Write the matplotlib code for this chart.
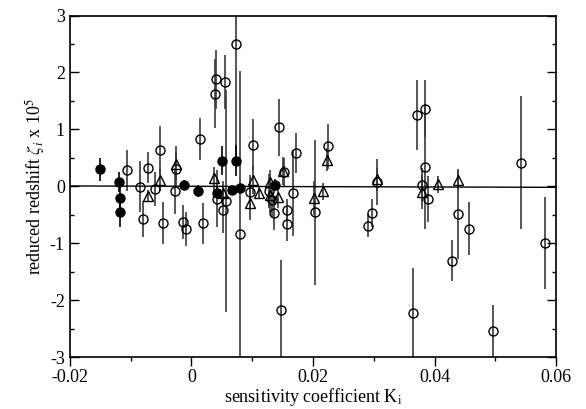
import matplotlib
matplotlib.use("Agg")
import matplotlib.pyplot as plt
from matplotlib.ticker import MultipleLocator

plt.rcParams['font.family'] = ['Liberation Serif', 'DejaVu Serif']
plt.rcParams['mathtext.fontset'] = 'stix'
plt.rcParams['axes.unicode_minus'] = False

# filled circles
fill_x = [-0.0151, -0.0119, -0.0118, -0.0117, -0.0012, 0.0011, 0.0050, 0.0074,
          0.0042, 0.0067, 0.0080, 0.0137]
fill_y = [0.30, 0.08, -0.21, -0.46, 0.03, -0.08, 0.45, 0.45, -0.12, -0.06, -0.035, 0.02]
fill_err = [0.20, 0.18, 0.30, 0.26, 0.08, 0.10, 0.25, 0.27, 0.10, 0.08, 0.08, 0.10]

# open circles
open_x = [-0.0106, -0.0084, -0.0071, -0.0059, -0.0052, -0.0027, -0.0026, 0.0015,
          0.0039, 0.0040, 0.0055, 0.0074, -0.0079, -0.0046, -0.0013, -0.0008,
          0.0019, 0.0043, 0.0052, 0.0057, 0.0080, 0.0097, 0.0128, 0.0136,
          0.0147, 0.0157, 0.0157, 0.0168, 0.0203, 0.0101, 0.0144, 0.0172,
          0.0225, 0.0152, 0.0305, 0.0297, 0.0290, 0.0371, 0.0384, 0.0385,
          0.0379, 0.0389, 0.0438, 0.0457, 0.0429, 0.0364, 0.0496, 0.0581,
          0.0542, 0.0133]
open_y = [0.28, -0.01, 0.33, -0.05, 0.64, -0.08, 0.30, 0.83,
          1.63, 1.88, 1.83, 2.50, -0.57, -0.65, -0.62, -0.75,
          -0.65, -0.22, -0.42, -0.25, -0.84, -0.105, -0.08, -0.47,
          -2.17, -0.42, -0.66, -0.12, -0.46, 0.73, 1.04, 0.585,
          0.70, 0.25, 0.08, -0.47, -0.69, 1.25, 1.36, 0.345,
          0.02, -0.22, -0.49, -0.745, -1.31, -2.23, -2.54, -1.00,
          0.415, -0.24]
open_err = [0.36, 0.45, 0.27, 0.30, 0.42, 0.40, 0.30, 0.37,
            0.60, 0.52, 0.48, 2.10, 0.32, 0.37, 0.30, 0.30,
            0.36, 0.50, 0.40, 1.95, 2.87, 0.30, 0.30, 0.30,
            0.87, 0.20, 0.30, 0.75, 1.27, 0.45, 0.50, 0.35,
            0.40, 0.25, 0.40, 0.25, 0.20, 0.62, 0.50, 1.10,
            0.30, 0.40, 0.79, 0.47, 0.36, 0.80, 0.46, 0.81,
            1.17, 0.30]

# open triangles
tri_x = [-0.0071, -0.0052, -0.0026, 0.0038, 0.0052, 0.0101, 0.0096, 0.0111,
         0.0129, 0.0129, 0.0142, 0.0151, 0.0223, 0.0202, 0.0216, 0.0305,
         0.0379, 0.0405, 0.0438]
tri_y = [-0.17, 0.11, 0.40, 0.14, -0.11, 0.11, -0.29, -0.12,
         0.08, -0.15, -0.19, 0.27, 0.47, -0.21, -0.09, 0.12,
         -0.095, 0.035, 0.11]
tri_err = [0.10, 0.20, 0.30, 0.20, 0.20, 0.25, 0.30, 0.10,
           0.20, 0.30, 0.20, 0.25, 0.20, 0.30, 0.15, 0.20,
           0.30, 0.15, 0.18]

# linear fit
fit_k = [-0.02, 0.06]
fit_intercept = 0.0
fit_slope = -0.3

fig = plt.figure(figsize=(5.86, 4.09), dpi=100)
ax = fig.add_axes([0.119, 0.127, 0.830, 0.835])

bar_col = '#3a3a3a'
ax.errorbar(open_x, open_y, yerr=open_err, fmt='o', ms=6.5, mfc='none', mec='k',
            mew=1.0, ecolor=bar_col, elinewidth=1.2, capsize=0)
ax.errorbar(tri_x, tri_y, yerr=tri_err, fmt='^', ms=7, mfc='none', mec='k',
            mew=1.0, ecolor=bar_col, elinewidth=1.2, capsize=0)
ax.errorbar(fill_x, fill_y, yerr=fill_err, fmt='o', ms=6.5, mfc='k', mec='k',
            ecolor='k', elinewidth=1.2, capsize=0)

ax.plot(fit_k, [fit_intercept + fit_slope * k for k in fit_k], color='k', lw=1.0)

ax.set_xlim(-0.02, 0.06)
ax.set_ylim(-3, 3)
ax.xaxis.set_minor_locator(MultipleLocator(0.01))
ax.yaxis.set_major_locator(MultipleLocator(1))
ax.yaxis.set_minor_locator(MultipleLocator(0.5))
ax.set_xticks([-0.02, 0, 0.02, 0.04, 0.06])
ax.set_xticklabels(['-0.02', '0', '0.02', '0.04', '0.06'])

ax.tick_params(axis='x', which='both', direction='out', top=False, labelsize=13, pad=2)
ax.tick_params(axis='y', which='both', direction='in', right=True, labelsize=13)
ax.tick_params(which='major', length=6.5, width=1)
ax.tick_params(which='minor', length=3, width=1)
for s in ax.spines.values():
    s.set_linewidth(1.2)

ax.set_xlabel(r'sensitivity coefficient K$_\mathrm{i}$', fontsize=13, labelpad=0)
ax.set_ylabel(r'reduced redshift $\zeta_i$ x 10$^5$', fontsize=13, labelpad=2)

fig.savefig('out.png', dpi=100)
